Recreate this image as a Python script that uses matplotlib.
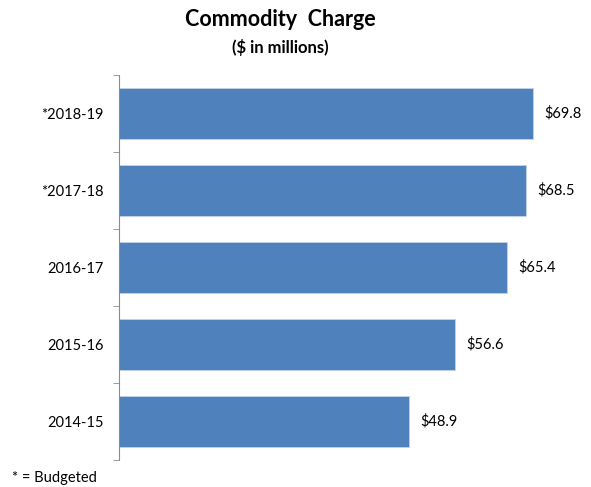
import matplotlib.pyplot as plt
import numpy as np

years = ['2014-15', '2015-16', '2016-17', '*2017-18', '*2018-19']
charge = [48.9, 56.6, 65.4, 68.5, 69.8]

plt.rcParams['font.family'] = ['Lato', 'DejaVu Sans']

fig = plt.figure(figsize=(5.91, 4.87), dpi=100)
ax = fig.add_axes([119 / 591, 27 / 487, 463 / 591, 385 / 487])

pos = np.arange(len(years))
ax.barh(pos, charge, height=0.66, color='#4F81BD', edgecolor='#C5D3E8', linewidth=0.6)

for p, v in zip(pos, charge):
    ax.text(v + 1.9, p, f'${v:.1f}', va='center', ha='left', fontsize=10.5)

ax.set_xlim(0, 78)
ax.set_ylim(-0.5, len(years) - 0.5)
ax.set_yticks(pos)
ax.set_yticklabels(years, fontsize=10.5)
ax.set_yticks(np.arange(-0.5, len(years)), minor=True)
ax.tick_params(axis='y', which='major', length=0, pad=11)
ax.tick_params(axis='y', which='minor', length=4, color='#8C8C8C', direction='out')
ax.set_xticks([])

for s in ['top', 'right', 'bottom']:
    ax.spines[s].set_visible(False)
ax.spines['left'].set_color('#8C8C8C')

fig.text(280 / 591, 1 - 20 / 487, 'Commodity  Charge', ha='center', va='center',
         fontsize=15.5, fontweight='bold')
fig.text(280 / 591, 1 - 47 / 487, '($ in millions)', ha='center', va='center',
         fontsize=12, fontweight='bold')
fig.text(12 / 591, 1 - 478 / 487, '* = Budgeted', ha='left', va='center', fontsize=10.5)

fig.savefig('out.png', dpi=100)
